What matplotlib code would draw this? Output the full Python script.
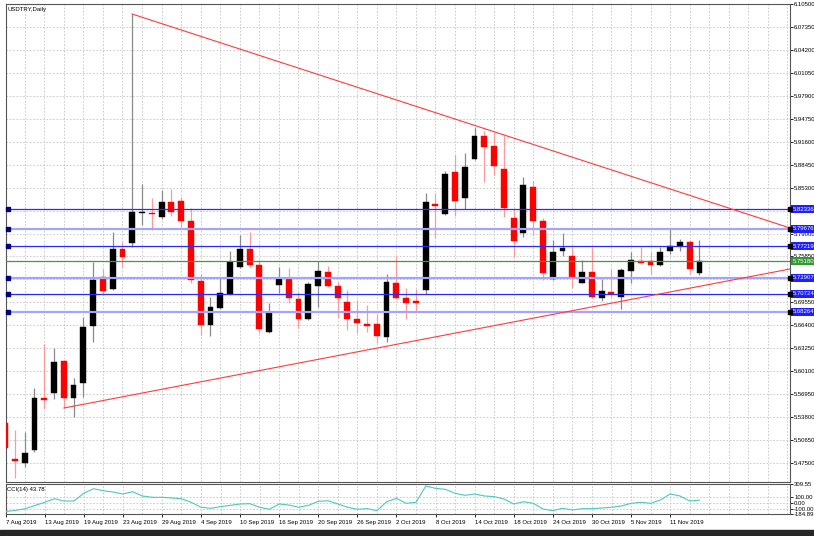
import numpy as np
import matplotlib
matplotlib.use('Agg')  # no display
import matplotlib.pyplot as plt
import matplotlib.transforms as mtransforms
from matplotlib.patches import Rectangle

plt.rcParams['font.family'] = ['Liberation Sans', 'DejaVu Sans']

# ---- data (daily bars, 7 Aug 2019 .. 14 Nov 2019) ----
symbol_title = 'USDTRY,Daily'

opens = [5.5299, 5.4805, 5.4750, 5.4929, 5.5642, 5.5711, 5.6150, 5.5642, 5.5848, 5.6631,
         5.7303, 5.7138, 5.7687, 5.7770, 5.8181, 5.8181, 5.8127, 5.8332, 5.8346, 5.8072,
         5.7248, 5.6644, 5.6878, 5.7070, 5.7440, 5.7687, 5.7468, 5.6548, 5.7193, 5.7289,
         5.7001, 5.6727, 5.7180, 5.7372, 5.7180, 5.6960, 5.6727, 5.6658, 5.6658, 5.6480,
         5.7221, 5.7015, 5.6974, 5.7125, 5.8305, 5.8168, 5.8744, 5.8387, 5.8923, 5.9238,
         5.9101, 5.8785, 5.8113, 5.7907, 5.8538, 5.8072, 5.7276, 5.7660, 5.7591, 5.7221,
         5.7372, 5.7015, 5.7097, 5.7029, 5.7385, 5.7523, 5.7523, 5.7468, 5.7660, 5.7729,
         5.7783, 5.7358]
highs = [5.5327, 5.5203, 5.5176, 5.5780, 5.6384, 5.6329, 5.6164, 5.5917, 5.6754, 5.7509,
         5.7413, 5.7921, 5.7783, 6.0913, 5.8580, 5.8387, 5.8497, 5.8511, 5.8401, 5.8250,
         5.7344, 5.7029, 5.7303, 5.7660, 5.7880, 5.7921, 5.7536, 5.6946, 5.7440, 5.7427,
         5.7097, 5.7234, 5.7523, 5.7454, 5.7234, 5.7125, 5.6987, 5.6919, 5.6795, 5.7344,
         5.7591, 5.7152, 5.7138, 5.8456, 5.8456, 5.8758, 5.8977, 5.9005, 5.9362, 5.9307,
         5.9293, 5.9252, 5.8236, 5.8676, 5.8621, 5.8113, 5.7811, 5.7907, 5.7715, 5.7536,
         5.7715, 5.7276, 5.7413, 5.7427, 5.7646, 5.7715, 5.7646, 5.7715, 5.7962, 5.7825,
         5.7811, 5.7811]
lows = [5.4901, 5.4544, 5.4695, 5.4901, 5.5491, 5.5629, 5.5505, 5.5382, 5.5656, 5.6411,
        5.7056, 5.7125, 5.7440, 5.7715, 5.8017, 5.7948, 5.8099, 5.8140, 5.7989, 5.7221,
        5.6507, 5.6493, 5.6864, 5.7056, 5.7427, 5.7440, 5.6534, 5.6534, 5.7084, 5.6946,
        5.6603, 5.6713, 5.6891, 5.7166, 5.6754, 5.6576, 5.6534, 5.6548, 5.6397, 5.6411,
        5.7001, 5.6727, 5.6823, 5.7070, 5.7838, 5.8154, 5.8140, 5.8236, 5.8909, 5.8607,
        5.8703, 5.8127, 5.7578, 5.7852, 5.7880, 5.7262, 5.7262, 5.7591, 5.7152, 5.7221,
        5.7015, 5.6974, 5.7029, 5.6864, 5.7221, 5.7482, 5.7344, 5.7454, 5.7619, 5.7660,
        5.7344, 5.7330]
closes = [5.4956, 5.4778, 5.4887, 5.5642, 5.5615, 5.6136, 5.5642, 5.5821, 5.6617, 5.7262,
          5.7111, 5.7687, 5.7578, 5.8195, 5.8195, 5.8168, 5.8332, 5.8195, 5.8072, 5.7262,
          5.6644, 5.6891, 5.7084, 5.7509, 5.7687, 5.7468, 5.6589, 5.6809, 5.7289, 5.7015,
          5.6727, 5.7207, 5.7385, 5.7180, 5.7015, 5.6727, 5.6672, 5.6631, 5.6493, 5.7234,
          5.7015, 5.6946, 5.6946, 5.8332, 5.8278, 5.8717, 5.8346, 5.8813, 5.9238, 5.9087,
          5.8827, 5.8250, 5.7797, 5.8566, 5.8072, 5.7358, 5.7646, 5.7701, 5.7303, 5.7372,
          5.7029, 5.7111, 5.7070, 5.7399, 5.7536, 5.7495, 5.7468, 5.7646, 5.7729, 5.7783,
          5.7413, 5.7518]

cci_label = 'CCI(14) 43.78'
cci_values = [-145, -125, -100, -45, 8, 67, 29, 29, 156, 232,
              199, 178, 145, 183, 112, 90, 90, 79, 67, 8,
              -74, -91, -64, -42, -20, -15, -74, -107, -20, -37,
              -74, -42, 24, 34, -20, -74, -107, -97, -130, 18,
              73, -9, 8, 277, 238, 222, 156, 123, 145, 112,
              101, 62, -20, 18, -9, -103, -130, -91, -119, -97,
              -97, -86, -74, -53, -9, 8, -9, 46, 145, 112,
              29, 43.78]

date_labels = ['7 Aug 2019', '13 Aug 2019', '19 Aug 2019', '23 Aug 2019', '29 Aug 2019',
               '4 Sep 2019', '10 Sep 2019', '16 Sep 2019', '20 Sep 2019', '26 Sep 2019',
               '2 Oct 2019', '8 Oct 2019', '14 Oct 2019', '18 Oct 2019', '24 Oct 2019',
               '30 Oct 2019', '5 Nov 2019', '11 Nov 2019']
date_label_bars = [0, 4, 8, 12, 16, 20, 24, 28, 32, 36, 40, 44, 48, 52, 56, 60, 64, 68]

price_ticks = [6.10500, 6.07350, 6.04200, 6.01050, 5.97900, 5.94750, 5.91600, 5.88450,
               5.85300, 5.82150, 5.79000, 5.75850, 5.72700, 5.69550, 5.66400, 5.63250,
               5.60100, 5.56950, 5.53800, 5.50650, 5.47500]
cci_ticks = [309.55, 100.00, 0.00, -100.00, -184.89]

levels = [5.82336, 5.79676, 5.77219, 5.72907, 5.70724, 5.68264]
level_thick = [False, True, False, True, False, True]
bid_price = 5.75180

# trend lines: (bar, price) anchors
upper_trend_bars = [12.98, 80.26]
upper_trend_prices = [6.0913, 5.7976]
lower_trend_bars = [6.02, 80.26]
lower_trend_prices = [5.5505, 5.7413]

# ---- layout in pixels ----
W, H = 814, 536
X_LEFT, X_RIGHT = 5.5, 790
BAR_MIN, BAR_MAX = 0.04, 80.26
FONT = 4.3
GRID_COLOR = '#c4c4c4'
FRAME_COLOR = '#555555'


def fig_rect(x0, y0, x1, y1):
    """pixel box (top-left origin) -> figure fraction rect"""
    return [x0 / W, 1 - y1 / H, (x1 - x0) / W, (y1 - y0) / H]


def style_frame(a):
    for s in a.spines.values():
        s.set_color(FRAME_COLOR)
        s.set_linewidth(0.8)
    a.set_facecolor('white')


def vertical_grid(a):
    for b in range(0, 81, 2):
        a.axvline(b, color=GRID_COLOR, lw=0.6, ls=(0, (2, 2)), zorder=0.5)


fig = plt.figure(figsize=(W / 100, H / 100), dpi=100)
fig.patch.set_facecolor('white')

ax = fig.add_axes(fig_rect(X_LEFT, 4, X_RIGHT, 482))
cax = fig.add_axes(fig_rect(X_LEFT, 484, X_RIGHT, 514))
style_frame(ax)
style_frame(cax)

# ---- main price panel ----
ax.set_xlim(BAR_MIN, BAR_MAX)
ax.set_ylim(5.44895, 6.105)
ax.set_xticks([])
ax.yaxis.tick_right()
ax.set_yticks(price_ticks)
ax.set_yticklabels(['%.5f' % p for p in price_ticks])
ax.tick_params(axis='y', length=2, width=0.6, pad=1, labelsize=FONT, colors='black')
ax.yaxis.grid(True, color=GRID_COLOR, lw=0.6, ls=(0, (2, 2)))
ax.set_axisbelow(True)
vertical_grid(ax)

x = np.arange(len(opens))
o = np.array(opens)
h = np.array(highs)
l = np.array(lows)
c = np.array(closes)
up = c >= o

# wicks
ax.vlines(x[up], l[up], h[up], color='#8a8a8a', lw=0.9, zorder=2)
ax.vlines(x[~up], l[~up], h[~up], color='#ff9a9a', lw=0.9, zorder=2)
# bodies
body_lo = np.minimum(o, c)
body_h = np.maximum(np.abs(c - o), 0.0008)
ax.bar(x[up], body_h[up], bottom=body_lo[up], width=0.6, color='black',
       edgecolor='black', lw=0.3, zorder=3)
ax.bar(x[~up], body_h[~up], bottom=body_lo[~up], width=0.6, color='#ff0000',
       edgecolor='#ff0000', lw=0.3, zorder=3)

# horizontal levels
yblend = mtransforms.blended_transform_factory(ax.transAxes, ax.transData)
for lvl, thick in zip(levels, level_thick):
    if thick:
        ax.axhline(lvl, color='#a4a4ff', lw=1.6, zorder=4)
    else:
        ax.axhline(lvl, color='#2a2aff', lw=0.9, zorder=4)
    ax.plot([0.25], [lvl], marker='s', ms=2.2, color='#000080', zorder=6, clip_on=False)
ax.axhline(bid_price, color='#3c9c3c', lw=0.9, zorder=4)

# trend lines
ax.plot(upper_trend_bars, upper_trend_prices, color='#ff3c3c', lw=0.8, zorder=5)
ax.plot(lower_trend_bars, lower_trend_prices, color='#ff3c3c', lw=0.8, zorder=5)

# price tags on the right axis
tag_dx = 1.0 + 2.5 / (X_RIGHT - X_LEFT)
for lvl in levels:
    ax.text(tag_dx, lvl, '%.5f' % lvl, transform=yblend, ha='left', va='center',
            fontsize=FONT, color='white', clip_on=False, zorder=8,
            bbox=dict(boxstyle='square,pad=0.25', fc='#1e1eff', ec='none'))
    ax.plot([1.0], [lvl], marker='s', ms=2.2, color='black', transform=yblend,
            clip_on=False, zorder=9)
ax.text(tag_dx, bid_price, '%.5f' % bid_price, transform=yblend, ha='left', va='center',
        fontsize=FONT, color='white', clip_on=False, zorder=8,
        bbox=dict(boxstyle='square,pad=0.25', fc='#2f9a2f', ec='none'))

fig.text(7.5 / W, 1 - 10 / H, symbol_title, fontsize=FONT, va='center', ha='left')

# ---- CCI panel ----
cax.set_xlim(BAR_MIN, BAR_MAX)
cax.set_ylim(-184.89, 309.55)
cax.plot(x, cci_values, color='#4cc8c0', lw=0.8, zorder=3)
for v in (100, 0, -100):
    cax.axhline(v, color=GRID_COLOR, lw=0.6, ls=(0, (2, 2)), zorder=0.5)
vertical_grid(cax)
cax.yaxis.tick_right()
cax.set_yticks(cci_ticks)
cax.set_yticklabels(['%.2f' % v for v in cci_ticks])
cax.tick_params(axis='y', length=2, width=0.6, pad=1, labelsize=FONT, colors='black')
cax.set_xticks(date_label_bars)
cax.set_xticklabels(date_labels, ha='left')
cax.tick_params(axis='x', length=2.5, width=0.6, pad=2, labelsize=FONT, colors='black')
fig.text(7 / W, 1 - 489 / H, cci_label, fontsize=FONT, va='center', ha='left')

# dark strip at the bottom of the screenshot
fig.add_artist(Rectangle((0, 0), 1, 6 / H, transform=fig.transFigure,
                         color='#262626', zorder=10))

fig.savefig('out.png', dpi=100, facecolor='white')
plt.close(fig)
